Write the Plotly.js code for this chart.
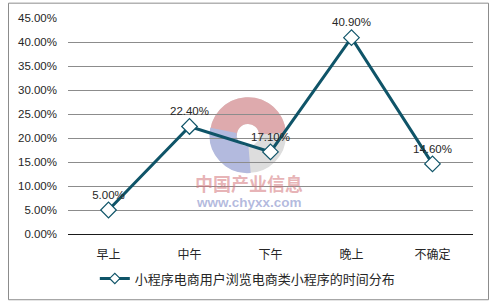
<!DOCTYPE html>
<html>
<head>
<meta charset="utf-8">
<script src="https://cdn.plot.ly/plotly-3.0.1.min.js"></script>
<style>html,body{margin:0;padding:0;background:#fff;}#chart{width:496px;height:306px;}</style>
</head>
<body>
<div id="chart"></div>
<script>
const categories = ["早上", "中午", "下午", "晚上", "不确定"];
const values = [5.00, 22.40, 17.10, 40.90, 14.60];
const seriesName = "小程序电商用户浏览电商类小程序的时间分布";
const yTickValues = [0, 5, 10, 15, 20, 25, 30, 35, 40, 45];
const yTickLabels = yTickValues.map(v => v.toFixed(2) + "%");
const dataLabels = values.map(v => v.toFixed(2) + "%");

const lineColor = "#0f5468";
const fontFamily = "Arial, 'Liberation Sans', 'Noto Sans CJK SC', sans-serif";

const ringSvg = '<svg xmlns="http://www.w3.org/2000/svg" width="100" height="100" viewBox="0 0 100 100">' +
  '<circle cx="50" cy="50" r="31" fill="none" stroke="#d2d2d2" stroke-width="34"/>' +
  '<path d="M 19 52 A 31 31 0 0 1 81 48" fill="none" stroke="#d48e92" stroke-width="34"/>' +
  '<path d="M 19 44 A 31 31 0 0 0 52 81" fill="none" stroke="#9aa4d4" stroke-width="34"/>' +
  '</svg>';

const mainTrace = {
  x: categories,
  y: values,
  type: "scatter",
  mode: "lines+markers+text",
  name: seriesName,
  showlegend: false,
  text: dataLabels,
  textposition: "top center",
  textfont: {family: fontFamily, size: 11.5, color: "#262626"},
  line: {color: lineColor, width: 3},
  marker: {symbol: "diamond", size: 12, color: "#ffffff", line: {color: lineColor, width: 1.2}},
  cliponaxis: false,
  hoverinfo: "x+y"
};

const legendTrace = {
  x: [null],
  y: [null],
  type: "scatter",
  mode: "lines+markers",
  name: seriesName,
  showlegend: true,
  line: {color: lineColor, width: 3},
  marker: {symbol: "diamond", size: 8, color: "#ffffff", line: {color: lineColor, width: 1.2}},
  hoverinfo: "skip"
};

const layout = {
  width: 496,
  height: 306,
  margin: {l: 68, r: 23, t: 18, b: 69},
  paper_bgcolor: "#ffffff",
  plot_bgcolor: "rgba(0,0,0,0)",
  font: {family: fontFamily, size: 11.5, color: "#262626"},
  showlegend: true,
  legend: {
    orientation: "h",
    x: 0.444, xanchor: "center",
    y: -0.206, yanchor: "middle",
    font: {family: "'Noto Sans CJK SC', sans-serif", size: 13, color: "#262626"},
    itemwidth: 30
  },
  xaxis: {
    type: "category",
    range: [-0.5, 4.5],
    showgrid: false,
    showline: true,
    linecolor: "#1a1a1a",
    linewidth: 1.2,
    ticks: "",
    tickfont: {family: "'Noto Sans CJK SC', sans-serif", size: 12, color: "#262626"},
    ticklabelstandoff: 9,
    fixedrange: true
  },
  yaxis: {
    range: [0, 45],
    tickvals: yTickValues,
    ticktext: yTickLabels,
    showgrid: true,
    gridcolor: "#8c8c8c",
    gridwidth: 1,
    zeroline: false,
    showline: false,
    ticks: "",
    ticklabelstandoff: 10,
    tickfont: {family: fontFamily, size: 11.5, color: "#262626"},
    fixedrange: true
  },
  images: [{
    source: "data:image/svg+xml;charset=utf-8," + encodeURIComponent(ringSvg),
    xref: "paper", yref: "paper",
    x: (248 - 68) / 405, y: (237 - 137) / 218.5,
    sizex: 80 / 405, sizey: 80 / 218.5,
    xanchor: "center", yanchor: "middle",
    sizing: "contain",
    opacity: 0.75,
    layer: "below"
  }],
  annotations: [
    {text: "<b>中国产业信息</b>", xref: "paper", yref: "paper",
     x: (249 - 68) / 405, y: (237 - 185) / 218.5, xanchor: "center", yanchor: "middle", showarrow: false,
     borderpad: 0,
     font: {family: "'Noto Sans CJK SC', sans-serif", size: 18, color: "rgba(210,115,120,0.55)"}},
    {text: "<b>www.chyxx.com</b>", xref: "paper", yref: "paper",
     x: (249 - 68) / 405, y: (237 - 205) / 218.5, xanchor: "center", yanchor: "middle", showarrow: false,
     borderpad: 0,
     font: {family: "Arial, 'Liberation Sans', sans-serif", size: 13.5, color: "rgba(130,140,200,0.6)"}}
  ],
  shapes: [{
    type: "rect", xref: "paper", yref: "paper",
    x0: (8.5 - 68) / 405, x1: (488.5 - 68) / 405,
    y0: (237 - 303.5) / 218.5, y1: (237 - 3.5) / 218.5,
    line: {color: "#8c8c8c", width: 1}, fillcolor: "rgba(0,0,0,0)", layer: "below"
  }]
};

Plotly.newPlot("chart", [mainTrace, legendTrace], layout, {displayModeBar: false, staticPlot: true});
</script>
</body>
</html>
